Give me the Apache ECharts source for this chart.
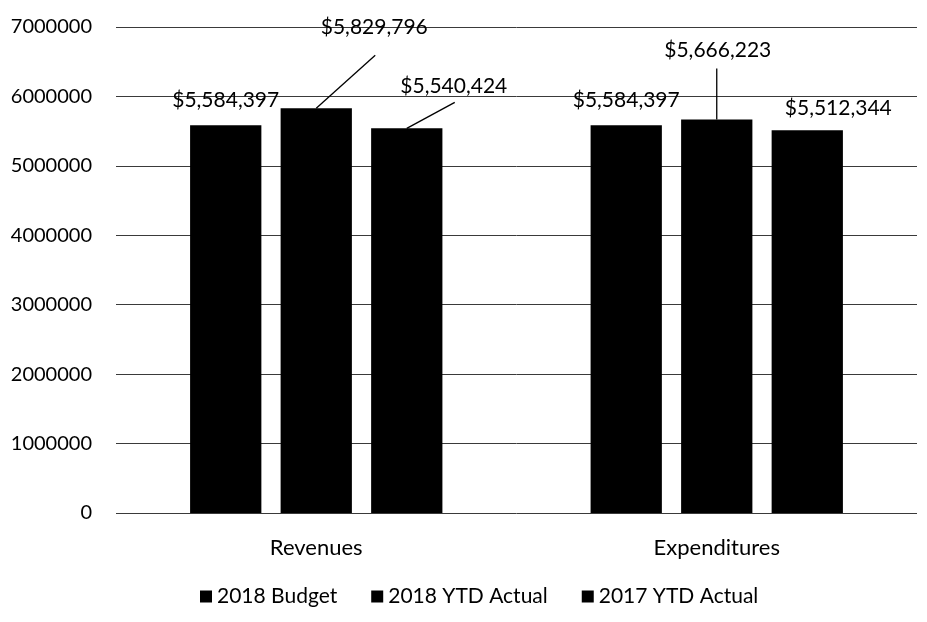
<!DOCTYPE html>
<html>
<head>
<meta charset="utf-8">
<script src="https://cdn.jsdelivr.net/npm/echarts@6/dist/echarts.min.js"></script>
<style>
html,body{margin:0;padding:0;background:#fff;}
#main{width:927px;height:622px;}
</style>
</head>
<body>
<div id="main"></div>
<script>
// ---- data ----
var categories = ['Revenues', 'Expenditures'];
var seriesNames = ['2018 Budget', '2018 YTD Actual', '2017 YTD Actual'];
var budget2018 = [5584397, 5584397];
var ytd2018 = [5829796, 5666223];
var ytd2017 = [5540424, 5512344];
var yTicks = [0, 1000000, 2000000, 3000000, 4000000, 5000000, 6000000, 7000000];

// ---- styling (label placement, leader lines) ----
var labelOffsets = [
  [[0, -10], [0, -10]],
  [[58, -66], [1, -54]],
  [[47, -27], [31, -7]]
];
// leader line end relative to bar top-centre (null = no line)
var leaderEnds = [
  [null, null],
  [[59, -53], [0, -51]],
  [[48, -26], null]
];

var FONT = 'Lato';
var allValues = [budget2018, ytd2018, ytd2017];

function money(v) {
  return '$' + String(v).replace(/\B(?=(\d{3})+(?!\d))/g, ',');
}

var chart = echarts.init(document.getElementById('main'), null, {renderer: 'canvas'});

var series = allValues.map(function (vals, s) {
  return {
    name: seriesNames[s],
    type: 'bar',
    barGap: '27%',
    barCategoryGap: '37%',
    itemStyle: {color: '#000'},
    label: {
      show: true,
      position: 'top',
      distance: 5,
      color: '#000',
      fontFamily: FONT,
      fontSize: 21,
      formatter: function (p) { return money(p.value); }
    },
    data: vals.map(function (v, i) {
      return {value: v, label: {offset: labelOffsets[s][i]}};
    })
  };
});

chart.setOption({
  animation: false,
  backgroundColor: '#fff',
  textStyle: {fontFamily: FONT},
  grid: {left: 116, right: 10, top: 27, bottom: 109, containLabel: false},
  legend: {
    data: seriesNames.map(function (n) { return {name: n, icon: 'rect'}; }),
    left: 195,
    top: 581,
    itemWidth: 12,
    itemHeight: 12,
    itemGap: 34,
    textStyle: {fontFamily: FONT, fontSize: 21, color: '#000'}
  },
  xAxis: {
    type: 'category',
    data: categories,
    axisLine: {show: false},
    axisTick: {show: false},
    axisLabel: {color: '#000', fontFamily: FONT, fontSize: 22, margin: 24}
  },
  yAxis: {
    type: 'value',
    min: yTicks[0],
    max: yTicks[yTicks.length - 1],
    interval: yTicks[1] - yTicks[0],
    axisLine: {show: false},
    axisTick: {show: false},
    axisLabel: {
      color: '#000', fontFamily: FONT, fontSize: 20, margin: 24,
      formatter: function (v) { return String(v); }
    },
    splitLine: {lineStyle: {color: '#3a3a3a', width: 1}}
  },
  series: series
});

// leader lines computed from the library's bar layouts
function drawLeaders() {
  var graphics = [];
  try {
    var model = chart.getModel();
    allValues.forEach(function (vals, s) {
      var data = model.getSeriesByIndex(s).getData();
      vals.forEach(function (v, i) {
        var end = leaderEnds[s][i];
        if (!end) return;
        var lay = data.getItemLayout(i);
        var top = Math.min(lay.y, lay.y + lay.height);
        var cx = lay.x + lay.width / 2;
        graphics.push({
          type: 'line',
          silent: true,
          z: 100,
          shape: {x1: cx, y1: top, x2: cx + end[0], y2: top + end[1]},
          style: {stroke: '#000', lineWidth: 1.3}
        });
      });
    });
  } catch (e) {}
  chart.setOption({graphic: graphics});
}
drawLeaders();
</script>
</body>
</html>
